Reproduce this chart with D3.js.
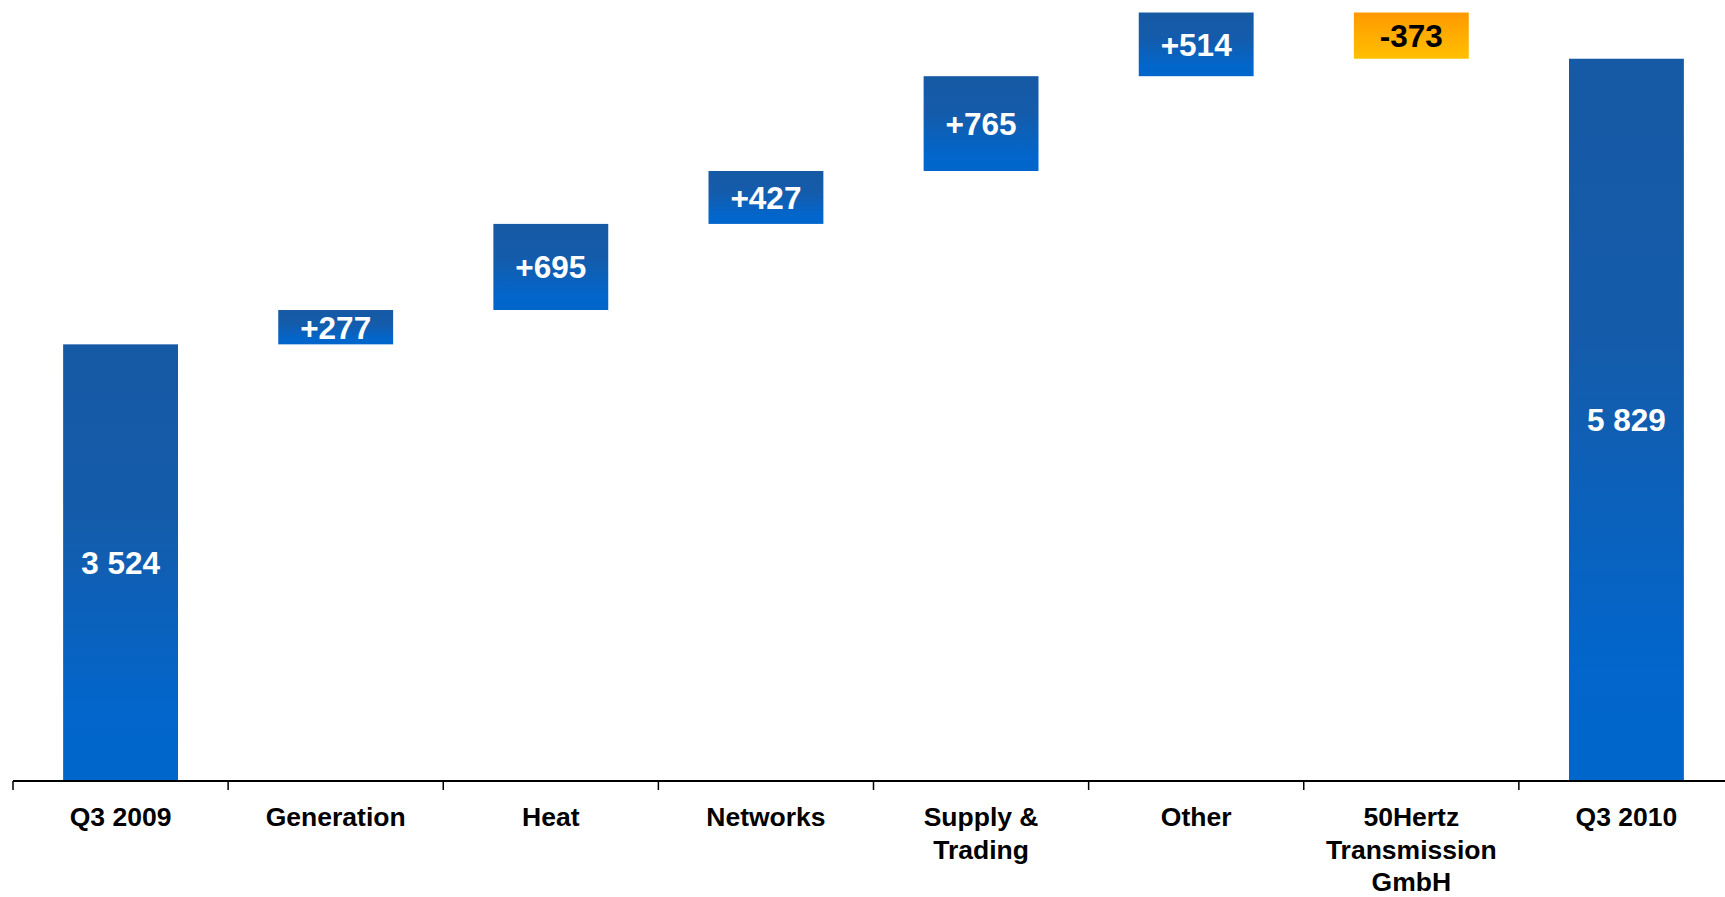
<!DOCTYPE html>
<html>
<head>
<meta charset="utf-8">
<script src="https://cdn.jsdelivr.net/npm/d3@7"></script>
<style>
  html, body { margin: 0; padding: 0; background: #fff; }
  svg { display: block; }
</style>
</head>
<body>
<svg id="chart" width="1725" height="897"></svg>
<script>
// Waterfall: EBITDA bridge from Q3 2009 to Q3 2010
const categories = ["Q3 2009", "Generation", "Heat", "Networks", "Supply &\nTrading", "Other", "50Hertz\nTransmission\nGmbH", "Q3 2010"];
const kinds      = ["total", "delta", "delta", "delta", "delta", "delta", "delta", "total"];
const values     = [3524, 277, 695, 427, 765, 514, -373, 5829];
const valueLabels = ["3 524", "+277", "+695", "+427", "+765", "+514", "-373", "5 829"];

// running start / end for each step
let running = 0;
const steps = categories.map((c, i) => {
  let start, end;
  if (kinds[i] === "total") { start = 0; end = values[i]; running = values[i]; }
  else { start = running; end = running + values[i]; running = end; }
  return { cat: c, i, start, end, value: values[i], label: valueLabels[i], kind: kinds[i] };
});

const svg = d3.select("#chart");
const axisY = 781;

const x = d3.scaleBand().domain(categories).range([13, 1734]).paddingInner(0.466).paddingOuter(0.233);
const y = d3.scaleLinear().domain([0, 6303]).range([axisY, 0]);
const step = x.step();

const defs = svg.append("defs");
const blue = defs.append("linearGradient").attr("id", "gBlue").attr("x1", 0).attr("y1", 0).attr("x2", 0).attr("y2", 1);
blue.append("stop").attr("offset", "0%").attr("stop-color", "#1659A4");
blue.append("stop").attr("offset", "40%").attr("stop-color", "#145CAB");
blue.append("stop").attr("offset", "85%").attr("stop-color", "#0266CC");
blue.append("stop").attr("offset", "100%").attr("stop-color", "#0066CC");
const orange = defs.append("linearGradient").attr("id", "gOrange").attr("x1", 0).attr("y1", 0).attr("x2", 0).attr("y2", 1);
orange.append("stop").attr("offset", "0%").attr("stop-color", "#FF9900");
orange.append("stop").attr("offset", "100%").attr("stop-color", "#FFC000");

// bars
svg.append("g").selectAll("rect").data(steps).join("rect")
  .attr("x", d => x(d.cat))
  .attr("width", x.bandwidth())
  .attr("y", d => y(Math.max(d.start, d.end)))
  .attr("height", d => Math.abs(y(d.start) - y(d.end)))
  .attr("fill", d => d.value < 0 ? "url(#gOrange)" : "url(#gBlue)");

// value labels
svg.append("g").selectAll("text").data(steps).join("text")
  .attr("x", d => x(d.cat) + x.bandwidth() / 2)
  .attr("y", d => (y(d.start) + y(d.end)) / 2)
  .attr("dy", "0.36em")
  .attr("text-anchor", "middle")
  .attr("font-family", "Liberation Sans, Arial, sans-serif")
  .attr("font-weight", "bold")
  .attr("font-size", 31.5)
  .attr("fill", d => d.value < 0 ? "#000" : "#fff")
  .text(d => d.label);

// axis line and boundary ticks
const axis = svg.append("g");
axis.append("line")
  .attr("x1", x.range()[0]).attr("x2", 1725)
  .attr("y1", axisY).attr("y2", axisY)
  .attr("stroke", "#000").attr("stroke-width", 2);
const tickXs = categories.map(c => x(c) - step * x.paddingInner() / 2);
axis.selectAll("line.tick").data(tickXs).join("line")
  .attr("class", "tick")
  .attr("x1", d => d).attr("x2", d => d)
  .attr("y1", axisY).attr("y2", axisY + 9)
  .attr("stroke", "#000").attr("stroke-width", 1.5);

// category labels
const catLabels = svg.append("g").selectAll("text").data(steps).join("text")
  .attr("x", d => x(d.cat) + x.bandwidth() / 2)
  .attr("y", 826)
  .attr("text-anchor", "middle")
  .attr("font-family", "Liberation Sans, Arial, sans-serif")
  .attr("font-weight", "bold")
  .attr("font-size", 26.5)
  .attr("fill", "#000");
catLabels.each(function(d) {
  const lines = d.cat.split("\n");
  d3.select(this).selectAll("tspan").data(lines).join("tspan")
    .attr("x", x(d.cat) + x.bandwidth() / 2)
    .attr("dy", (l, k) => k === 0 ? 0 : 32.5)
    .text(l => l);
});
</script>
</body>
</html>
